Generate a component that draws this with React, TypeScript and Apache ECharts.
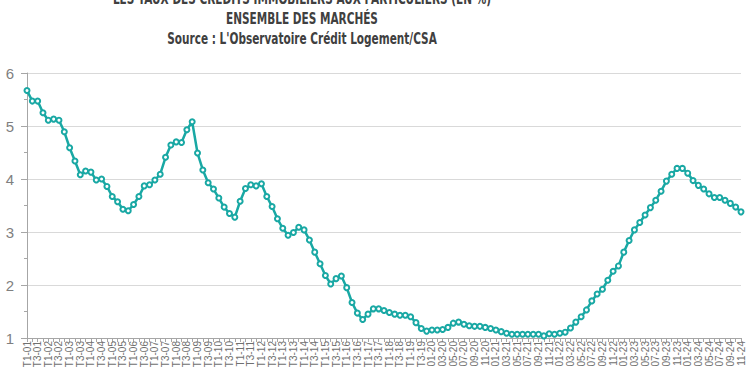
import React, { useEffect, useRef } from "react";
import * as echarts from "echarts";

// Quarterly rates T1-2001 .. T4-2019
const quarterlyRates: number[] = [
  5.67, 5.47, 5.47, 5.25, 5.11, 5.13, 5.11, 4.89, 4.59, 4.34,
  4.08, 4.15, 4.13, 3.98, 4.0, 3.86, 3.67, 3.57, 3.43, 3.4,
  3.52, 3.67, 3.87, 3.89, 3.98, 4.09, 4.41, 4.64, 4.7, 4.69,
  4.93, 5.08, 4.49, 4.17, 3.93, 3.81, 3.64, 3.47, 3.35, 3.28,
  3.58, 3.82, 3.89, 3.87, 3.91, 3.67, 3.48, 3.25, 3.07, 2.94,
  2.99, 3.09, 3.04, 2.85, 2.62, 2.4, 2.18, 2.02, 2.12, 2.17,
  1.95, 1.67, 1.47, 1.35, 1.45, 1.55, 1.55, 1.52, 1.48, 1.45,
  1.43, 1.43, 1.4, 1.29, 1.18, 1.13,
];

// Monthly rates 01-2020 .. 11-2024
const monthlyRates: number[] = [
  1.15, 1.15, 1.16, 1.2, 1.28, 1.3, 1.26, 1.23, 1.22, 1.22, 1.2, 1.18,
  1.15, 1.12, 1.09, 1.07, 1.07, 1.07, 1.07, 1.07, 1.07, 1.04, 1.08, 1.07,
  1.09, 1.11, 1.19, 1.3, 1.4, 1.53, 1.7, 1.83, 1.92, 2.09, 2.26, 2.36,
  2.62, 2.84, 3.04, 3.18, 3.32, 3.46, 3.6, 3.77, 3.96, 4.09, 4.2, 4.2,
  4.11, 3.97, 3.88, 3.81, 3.72, 3.65, 3.65, 3.6, 3.54, 3.47, 3.38,
];

const quarterYears: string[] = [
  "01", "02", "03", "04", "05", "06", "07", "08", "09", "10",
  "11", "12", "13", "14", "15", "16", "17", "18", "19",
];
const quarterNames: string[] = ["T1", "T2", "T3", "T4"];
const monthYears: string[] = ["20", "21", "22", "23", "24"];
const monthNames: string[] = ["01", "02", "03", "04", "05", "06", "07", "08", "09", "10", "11", "12"];

const titleLines: string[] = [
  "LES TAUX DES CRÉDITS IMMOBILIERS AUX PARTICULIERS (EN %)",
  "ENSEMBLE DES MARCHÉS",
  "Source : L'Observatoire Crédit Logement/CSA",
];

const yTicks = { min: 1, max: 6, interval: 1 };

function buildCategories(): string[] {
  const cats: string[] = [];
  quarterYears.forEach((y) => quarterNames.forEach((q) => cats.push(`${q}-${y}`)));
  monthYears.forEach((y) => monthNames.forEach((m) => cats.push(`${m}-${y}`)));
  return cats;
}

export default function App() {
  const ref = useRef<HTMLDivElement>(null);

  useEffect(() => {
    if (!ref.current) return;
    const chart = echarts.init(ref.current, undefined, { renderer: "svg" });
    const values = [...quarterlyRates, ...monthlyRates];
    const categories = buildCategories().slice(0, values.length);
    const titleFont = 'bold 15px "DejaVu Sans Condensed", "DejaVu Sans", sans-serif';

    chart.setOption({
      animation: false,
      backgroundColor: "#ffffff",
      grid: { left: 27, right: 9, top: 73, bottom: 37 },
      graphic: titleLines.map((t, i) => ({
        type: "text",
        x: 302,
        y: -1 + i * 20,
        scaleX: 0.78,
        style: {
          text: t,
          font: titleFont,
          fill: "#404040",
          textAlign: "center",
          textVerticalAlign: "middle",
        },
      })),
      xAxis: {
        type: "category",
        data: categories,
        boundaryGap: false,
        axisLine: { lineStyle: { color: "#a6a6a6", width: 1 } },
        axisTick: { show: true, interval: 0, length: 4, lineStyle: { color: "#a6a6a6" } },
        axisLabel: {
          interval: 1,
          rotate: 90,
          fontSize: 10,
          margin: 3,
          color: "#707070",
          fontFamily: "Liberation Sans, Arial, sans-serif",
        },
        splitLine: { show: false },
      },
      yAxis: {
        type: "value",
        min: yTicks.min,
        max: yTicks.max,
        interval: yTicks.interval,
        axisLine: { show: true, lineStyle: { color: "#a6a6a6" } },
        axisTick: { show: true, length: 6, lineStyle: { color: "#a6a6a6" } },
        minorTick: { show: true, splitNumber: 2, length: 3, lineStyle: { color: "#a6a6a6" } },
        axisLabel: {
          fontSize: 15,
          margin: 13,
          color: "#7f7f7f",
          fontFamily: "Liberation Sans, Arial, sans-serif",
        },
        splitLine: { show: true, lineStyle: { color: "#d9d9d9", width: 1 } },
      },
      series: [
        {
          type: "line",
          data: values,
          symbol: "emptyCircle",
          symbolSize: 5,
          showSymbol: true,
          showAllSymbol: true,
          lineStyle: { color: "#19a8a4", width: 2.5 },
          itemStyle: { color: "#19a8a4", borderColor: "#19a8a4", borderWidth: 2 },
        },
      ],
    });

    return () => chart.dispose();
  }, []);

  return (
    <div
      ref={ref}
      style={{ position: "fixed", left: 0, top: 0, width: 750, height: 375, background: "#fff" }}
    />
  );
}
